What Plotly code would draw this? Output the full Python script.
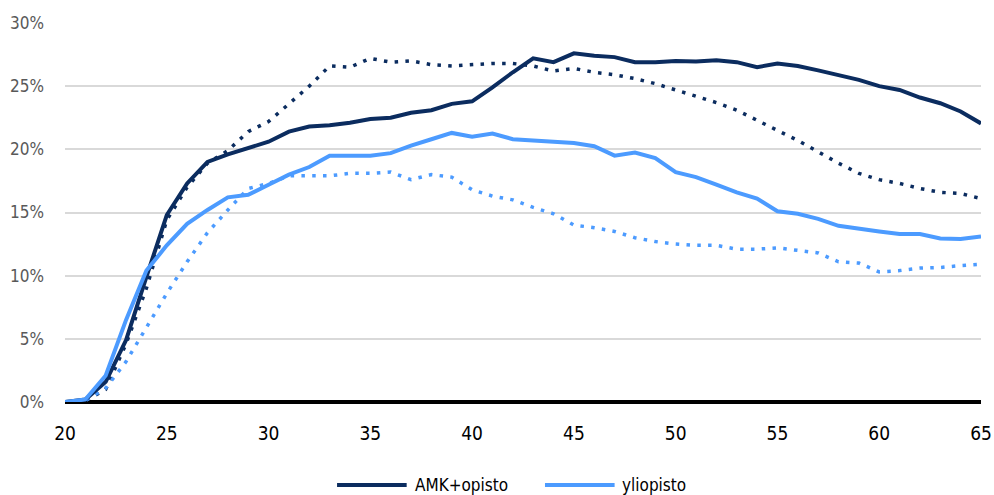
import plotly.graph_objects as go

ages = list(range(20, 66))

amk_solid = [0, 0.2, 1.6, 4.9, 9.9, 14.8, 17.3, 19.0, 19.6, 20.1, 20.6, 21.4, 21.8, 21.9, 22.1,
             22.4, 22.5, 22.9, 23.1, 23.6, 23.8, 24.9, 26.1, 27.2, 26.9, 27.6, 27.4, 27.3, 26.9, 26.9,
             27.0, 26.95, 27.05, 26.9, 26.5, 26.8, 26.6, 26.25, 25.9, 25.5, 25.0, 24.7, 24.1, 23.65,
             23.0, 22.05]
amk_dot = [0, 0.1, 1.0, 4.6, 9.0, 14.4, 17.0, 18.9, 19.9, 21.4, 22.2, 23.6, 25.0, 26.6, 26.5,
           27.2, 26.9, 27.0, 26.7, 26.6, 26.7, 26.8, 26.8, 26.6, 26.2, 26.4, 26.1, 25.9, 25.6, 25.2,
           24.7, 24.2, 23.7, 23.1, 22.3, 21.5, 20.7, 19.8, 18.9, 18.1, 17.6, 17.3, 16.9, 16.6,
           16.5, 16.1]
yo_solid = [0, 0.2, 2.1, 6.5, 10.4, 12.4, 14.1, 15.2, 16.2, 16.4, 17.2, 18.0, 18.6, 19.5, 19.5,
            19.5, 19.7, 20.3, 20.8, 21.3, 21.0, 21.25, 20.8, 20.7, 20.65, 20.5, 20.25, 19.5, 19.75,
            19.3, 18.2, 17.8, 17.2, 16.6, 16.1, 15.1, 14.9, 14.5, 13.95, 13.7, 13.5, 13.3, 13.3,
            12.95, 12.9, 13.1]
yo_dot = [0, 0.1, 1.1, 3.2, 5.9, 8.6, 11.1, 13.4, 15.2, 16.9, 17.3, 17.9, 17.9, 17.9, 18.1,
          18.1, 18.2, 17.6, 18.0, 17.8, 16.8, 16.3, 16.0, 15.4, 14.9, 14.0, 13.8, 13.5, 13.0, 12.7,
          12.5, 12.4, 12.4, 12.1, 12.1, 12.2, 12.0, 11.8, 11.1, 11.0, 10.3, 10.4, 10.6, 10.65,
          10.8, 10.9]

y_ticks = [0, 5, 10, 15, 20, 25, 30]
x_ticks = [20, 25, 30, 35, 40, 45, 50, 55, 60, 65]
legend_names = ["AMK+opisto", "yliopisto"]

DARK = "#0b2c5f"
LIGHT = "#4c9bff"
FONT = "DejaVu Sans Condensed, Liberation Sans, sans-serif"

fig = go.Figure()
fig.add_trace(go.Scatter(x=ages, y=[v / 100 for v in amk_dot], mode="lines", showlegend=False,
                         line=dict(color=DARK, width=3.5, dash="3.5px,7.3px")))
fig.add_trace(go.Scatter(x=ages, y=[v / 100 for v in yo_dot], mode="lines", showlegend=False,
                         line=dict(color=LIGHT, width=3.5, dash="3.5px,7.3px")))
fig.add_trace(go.Scatter(x=ages, y=[v / 100 for v in amk_solid], mode="lines", name=legend_names[0],
                         showlegend=False, line=dict(color=DARK, width=4)))
fig.add_trace(go.Scatter(x=ages, y=[v / 100 for v in yo_solid], mode="lines", name=legend_names[1],
                         showlegend=False, line=dict(color=LIGHT, width=4)))

# legend drawn by hand so the line samples can be as long as in the original
leg_y = -0.219
for name, col, x0, x1, xt in [(legend_names[0], DARK, 0.297, 0.373, 0.380),
                              (legend_names[1], LIGHT, 0.524, 0.600, 0.606)]:
    fig.add_shape(type="line", xref="paper", yref="paper", x0=x0, x1=x1, y0=leg_y, y1=leg_y,
                  line=dict(color=col, width=4))
    fig.add_annotation(xref="paper", yref="paper", x=xt, y=leg_y, text=name, showarrow=False,
                       xanchor="left", yanchor="middle", font=dict(size=17, color="black"))

fig.update_layout(
    width=994,
    height=495,
    margin=dict(l=65, r=13, t=23, b=93),
    plot_bgcolor="white",
    paper_bgcolor="white",
    font=dict(family=FONT, size=17, color="black"),
    showlegend=False,
    xaxis=dict(range=[20, 65], tickvals=x_ticks, showgrid=False, zeroline=False,
               showline=False, ticks="", automargin=False, ticklabelstandoff=18,
               tickfont=dict(color="black", size=19)),
    yaxis=dict(range=[0, 0.3], tickvals=[v / 100 for v in y_ticks], tickformat=".0%",
               showgrid=True, gridcolor="#d9d9d9", gridwidth=1.5,
               zeroline=True, zerolinecolor="black", zerolinewidth=3.5,
               automargin=False, ticklabelstandoff=20,
               tickfont=dict(color="#595959", size=17), ticks=""),
)

# drop the default 8px body margin so the figure sits at the page corner
fig.write_html("out.html", config={"displayModeBar": False},
               post_script="document.body.style.margin='0';")
